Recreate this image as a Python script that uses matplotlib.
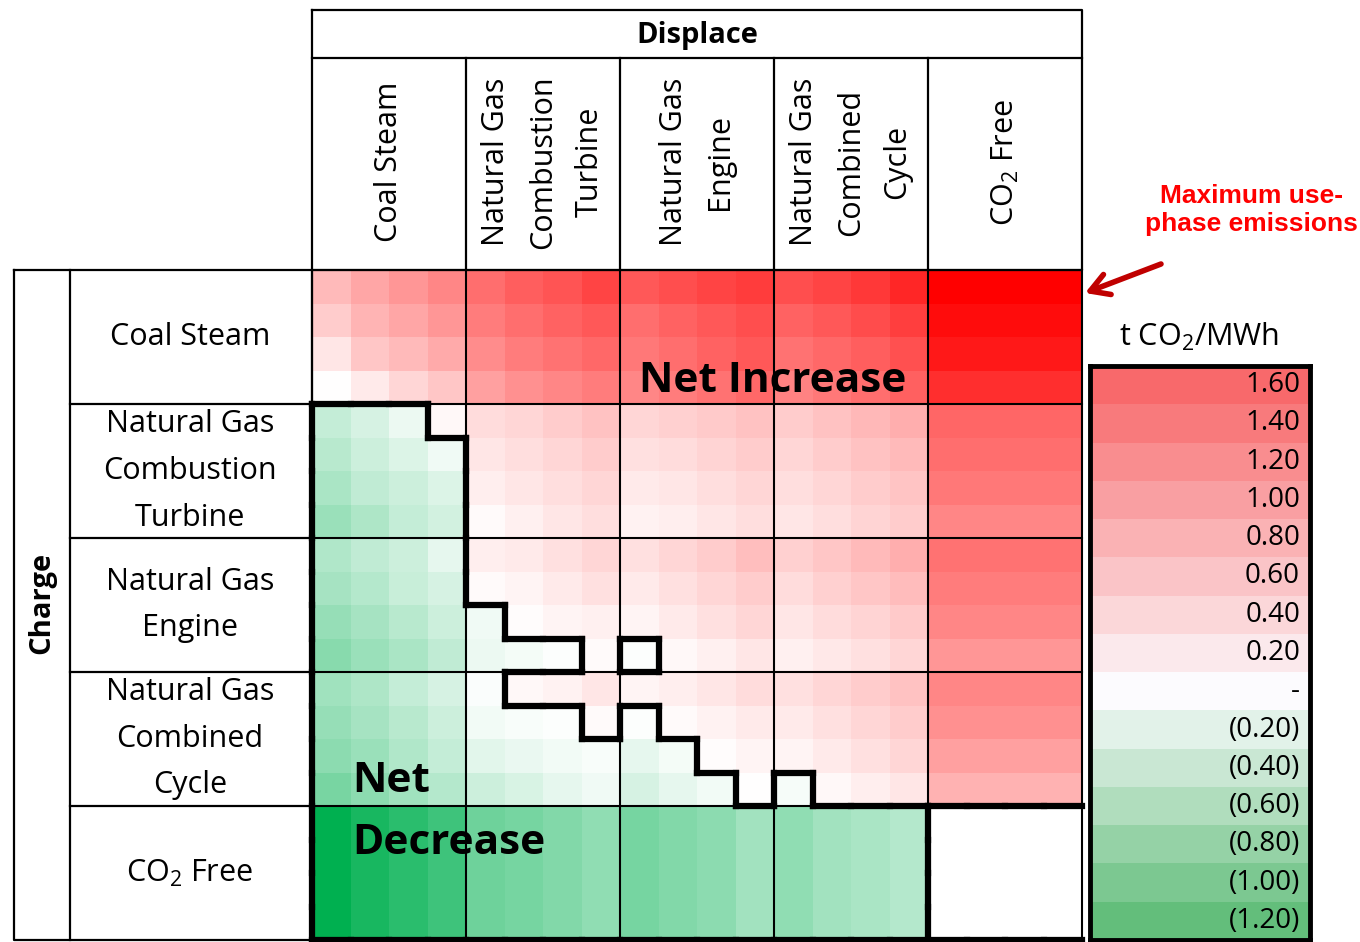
import numpy as np
import matplotlib
matplotlib.use('Agg')
import matplotlib.pyplot as plt
from matplotlib.colors import LinearSegmentedColormap, TwoSlopeNorm
from matplotlib.collections import LineCollection

plt.rcParams['font.family'] = ['Open Sans', 'DejaVu Sans']
plt.rcParams['mathtext.fontset'] = 'custom'
plt.rcParams['mathtext.rm'] = 'Open Sans'
plt.rcParams['mathtext.default'] = 'regular'

# categories
techs = ['Coal Steam', 'Natural Gas\nCombustion\nTurbine', 'Natural Gas\nEngine',
         'Natural Gas\nCombined\nCycle', 'CO$_2$ Free']

# net emissions, t CO2/MWh: fossil charge (rows) x fossil displace (cols), 4x4 cases per pair
fossil = [
    [0.54, 0.70, 0.82, 0.94, 1.14, 1.26, 1.34, 1.46, 1.30, 1.38, 1.46, 1.52, 1.38, 1.46, 1.56, 1.70],
    [0.40, 0.58, 0.70, 0.82, 1.02, 1.14, 1.22, 1.30, 1.14, 1.22, 1.30, 1.38, 1.22, 1.30, 1.40, 1.50],
    [0.20, 0.44, 0.54, 0.66, 0.90, 1.02, 1.10, 1.18, 1.06, 1.14, 1.22, 1.30, 1.10, 1.18, 1.26, 1.36],
    [0.00, 0.16, 0.32, 0.44, 0.74, 0.86, 0.94, 1.02, 0.94, 1.02, 1.10, 1.18, 0.98, 1.06, 1.14, 1.24],
    [-0.28, -0.19, -0.09, 0.06, 0.28, 0.32, 0.40, 0.48, 0.32, 0.36, 0.42, 0.48, 0.40, 0.48, 0.56, 0.64],
    [-0.33, -0.24, -0.16, -0.07, 0.20, 0.26, 0.32, 0.40, 0.24, 0.28, 0.34, 0.40, 0.32, 0.40, 0.48, 0.54],
    [-0.40, -0.30, -0.24, -0.16, 0.14, 0.20, 0.26, 0.32, 0.16, 0.20, 0.26, 0.32, 0.26, 0.32, 0.40, 0.46],
    [-0.47, -0.38, -0.28, -0.21, 0.04, 0.12, 0.20, 0.26, 0.10, 0.14, 0.20, 0.26, 0.20, 0.26, 0.34, 0.40],
    [-0.37, -0.30, -0.24, -0.12, 0.14, 0.16, 0.24, 0.32, 0.24, 0.32, 0.40, 0.50, 0.36, 0.44, 0.54, 0.64],
    [-0.42, -0.35, -0.26, -0.19, 0.04, 0.08, 0.16, 0.24, 0.16, 0.24, 0.32, 0.40, 0.28, 0.36, 0.44, 0.52],
    [-0.49, -0.42, -0.33, -0.24, -0.07, 0.02, 0.08, 0.12, 0.08, 0.16, 0.24, 0.32, 0.20, 0.28, 0.34, 0.42],
    [-0.56, -0.47, -0.40, -0.30, -0.09, -0.05, -0.01, 0.04, -0.01, 0.06, 0.12, 0.20, 0.12, 0.18, 0.24, 0.32],
    [-0.45, -0.38, -0.28, -0.19, -0.02, 0.06, 0.10, 0.20, 0.08, 0.14, 0.20, 0.28, 0.24, 0.32, 0.40, 0.48],
    [-0.49, -0.42, -0.33, -0.24, -0.06, -0.03, -0.01, 0.04, -0.01, 0.04, 0.10, 0.16, 0.16, 0.24, 0.32, 0.40],
    [-0.54, -0.47, -0.37, -0.28, -0.14, -0.10, -0.06, -0.03, -0.12, -0.05, 0.02, 0.08, 0.08, 0.16, 0.24, 0.32],
    [-0.63, -0.54, -0.45, -0.35, -0.24, -0.18, -0.12, -0.07, -0.19, -0.12, -0.06, 0.01, -0.04, 0.06, 0.14, 0.20],
]
# displacing CO2 free (one value per charge case) and charging from CO2 free (one per displace case)
co2free_displace = [2.00, 1.90, 1.80, 1.64, 1.20, 1.14, 1.06, 0.94,
                    1.10, 1.02, 0.94, 0.82, 0.94, 0.86, 0.74, 0.60]
co2free_charge = [-1.20, -1.08, -1.00, -0.90, -0.68, -0.64, -0.59, -0.52,
                  -0.64, -0.59, -0.54, -0.44, -0.52, -0.44, -0.40, -0.35]

# legend bands
legend_vals = [1.6, 1.4, 1.2, 1.0, 0.8, 0.6, 0.4, 0.2, 0.0, -0.2, -0.4, -0.6, -0.8, -1.0, -1.2]

M = np.full((20, 20), np.nan)
M[:16, :16] = fossil
M[:16, 16:] = np.array(co2free_displace)[:, None]
M[16:, :16] = np.array(co2free_charge)[None, :]

W, H = 1360, 942
fig = plt.figure(figsize=(W / 100, H / 100), dpi=100)


def fax(x0, y0, x1, y1):
    return fig.add_axes([x0 / W, 1 - y1 / H, (x1 - x0) / W, (y1 - y0) / H])


GX0, GX1, GY0, GY1 = 312, 1082, 270, 940
cw, ch = (GX1 - GX0) / 5, (GY1 - GY0) / 5

# ---- heatmap ----
cmap = LinearSegmentedColormap.from_list('rg', ['#00B050', '#FFFFFF', '#FF0000'])
norm = TwoSlopeNorm(vmin=-1.2, vcenter=0, vmax=2.0)
ax = fax(GX0, GY0, GX1, GY1)
ax.pcolormesh(np.arange(21), np.arange(21), np.ma.masked_invalid(M), cmap=cmap, norm=norm)
ax.set_xlim(0, 20)
ax.set_ylim(20, 0)
ax.axis('off')
for k in range(0, 21, 4):
    ax.plot([k, k], [0, 20], color='black', lw=1.5, clip_on=False)
    ax.plot([0, 20], [k, k], color='black', lw=1.5, clip_on=False)

# thick border between net increase / net decrease / blank
cls = np.where(np.isnan(M), 2, np.where(M < 0, 1, 0))
segs = []
for i in range(20):
    for j in range(20):
        if i > 0 and cls[i - 1, j] != cls[i, j]:
            segs.append([(j, i), (j + 1, i)])
        if j > 0 and cls[i, j - 1] != cls[i, j]:
            segs.append([(j, i), (j, i + 1)])
        if j == 0 and cls[i, j] == 1:
            segs.append([(0, i), (0, i + 1)])
        if i == 19 and cls[i, j] > 0:
            segs.append([(j, 20), (j + 1, 20)])
ax.add_collection(LineCollection(segs, colors='black', linewidths=4.5,
                                 capstyle='projecting', clip_on=False, zorder=5))

# ---- overlay for tables and text ----
ov = fig.add_axes([0, 0, 1, 1])
ov.set_xlim(0, W)
ov.set_ylim(H, 0)
ov.axis('off')
lk = dict(color='black', lw=1.6)
ov.plot([GX0, GX1, GX1, GX0, GX0], [10, 10, GY0, GY0, 10], **lk)
ov.plot([GX0, GX1], [58, 58], **lk)
for k in range(1, 5):
    ov.plot([GX0 + k * cw] * 2, [58, GY0], **lk)
ov.plot([14, GX0, GX0, 14, 14], [GY0, GY0, GY1, GY1, GY0], **lk)
ov.plot([70, 70], [GY0, GY1], **lk)
for k in range(1, 5):
    ov.plot([70, GX0], [GY0 + k * ch] * 2, **lk)

ov.text((GX0 + GX1) / 2, 35, 'Displace', ha='center', va='center', fontsize=21, fontweight='bold')
ov.text(42, 603, 'Charge', ha='center', va='center', rotation=90, fontsize=21, fontweight='bold')

gap = 46.5
for k, name in enumerate(techs):
    lines = name.split('\n')
    n = len(lines)
    for m, ln in enumerate(lines):
        off = (m - (n - 1) / 2) * gap
        ov.text(GX0 + (k + 0.5) * cw + off, 162, ln, rotation=90,
                ha='center', va='center', fontsize=22)
        ov.text(190, GY0 + (k + 0.5) * ch + off, ln,
                ha='center', va='center', fontsize=22)

ov.text(773, 381, 'Net Increase', ha='center', va='center', fontsize=30.5, fontweight='bold', zorder=10)
ov.text(352, 781, 'Net', ha='left', va='center', fontsize=30.5, fontweight='bold', zorder=10)
ov.text(352, 843, 'Decrease', ha='left', va='center', fontsize=30.5, fontweight='bold', zorder=10)

ov.text(1251, 210, 'Maximum use-\nphase emissions', ha='center', va='center', color='#FF0000',
        fontsize=19, fontweight='bold', family=['Liberation Sans'], linespacing=1.2)
ov.annotate('', xy=(1085, 293), xytext=(1161, 264),
            arrowprops=dict(arrowstyle='->,head_length=0.6,head_width=0.35',
                            color='#C00000', lw=4, mutation_scale=22, shrinkA=0, shrinkB=0))

# ---- legend ----
ov.text(1199, 337, 't CO$_2$/MWh', ha='center', va='center', fontsize=22)
lcmap = LinearSegmentedColormap.from_list('xl', ['#63BE7B', '#FCFCFF', '#F8696B'])
lnorm = TwoSlopeNorm(vmin=-1.2, vcenter=0, vmax=1.6)
lx = fax(1090, 366, 1310, 940)
nb = len(legend_vals)
lx.pcolormesh([0, 1], np.arange(nb + 1), np.array(legend_vals)[:, None], cmap=lcmap, norm=lnorm)
lx.set_xlim(0, 1)
lx.set_ylim(nb, 0)
lx.set_xticks([])
lx.set_yticks([])
for s in lx.spines.values():
    s.set_linewidth(3.5)
for i, v in enumerate(legend_vals):
    if v > 0:
        lab = f'{v:.2f}'
    elif v < 0:
        lab = f'({-v:.2f})'
    else:
        lab = '-'
    lx.text(0.955, i + 0.5, lab, ha='right', va='center', fontsize=20)

fig.savefig('out.png', dpi=100)
